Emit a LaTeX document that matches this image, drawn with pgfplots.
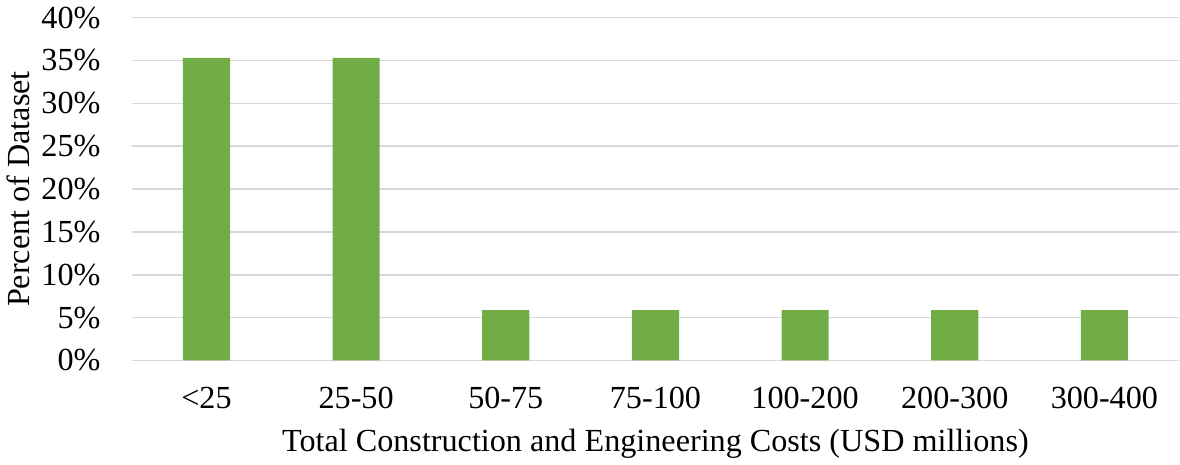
\documentclass[border=0pt]{standalone}
\usepackage{pgfplots}
\pgfplotsset{compat=1.18}
\usepackage{fontspec}
\setmainfont{Liberation Serif}
\definecolor{bargreen}{HTML}{70AD47}
\definecolor{gridgray}{HTML}{D9D9D9}

\begin{document}
\begin{tikzpicture}
\begin{axis}[
    scale only axis,
    width=521pt, height=170.5pt,
    ybar, bar width=0.315,
    xmin=-0.5, xmax=6.5,
    ymin=0, ymax=40,
    ytick={0,5,...,40},
    yticklabel={\pgfmathprintnumber{\tick}\%},
    xtick=data,
    xticklabels={<25,25-50,50-75,75-100,100-200,200-300,300-400},
    axis line style={draw=none},
    tick style={draw=none},
    ymajorgrids=true,
    grid style={gridgray, line width=0.8pt},
    ticklabel style={font=\fontsize{16}{18}\selectfont},
    /pgf/number format/assume math mode=true,
    xticklabel style={yshift=-5.5pt},
    yticklabel style={xshift=-12pt},
    xlabel={Total Construction and Engineering Costs (USD millions)},
    ylabel={Percent of Dataset},
    label style={font=\fontsize{16}{18}\selectfont},
    xlabel style={yshift=-3pt},
    ylabel style={yshift=-1pt},
]
\addplot[fill=bargreen, draw=none] coordinates {
    (0,35.29) (1,35.29) (2,5.88) (3,5.88) (4,5.88) (5,5.88) (6,5.88)
};
\end{axis}
\end{tikzpicture}
\end{document}
